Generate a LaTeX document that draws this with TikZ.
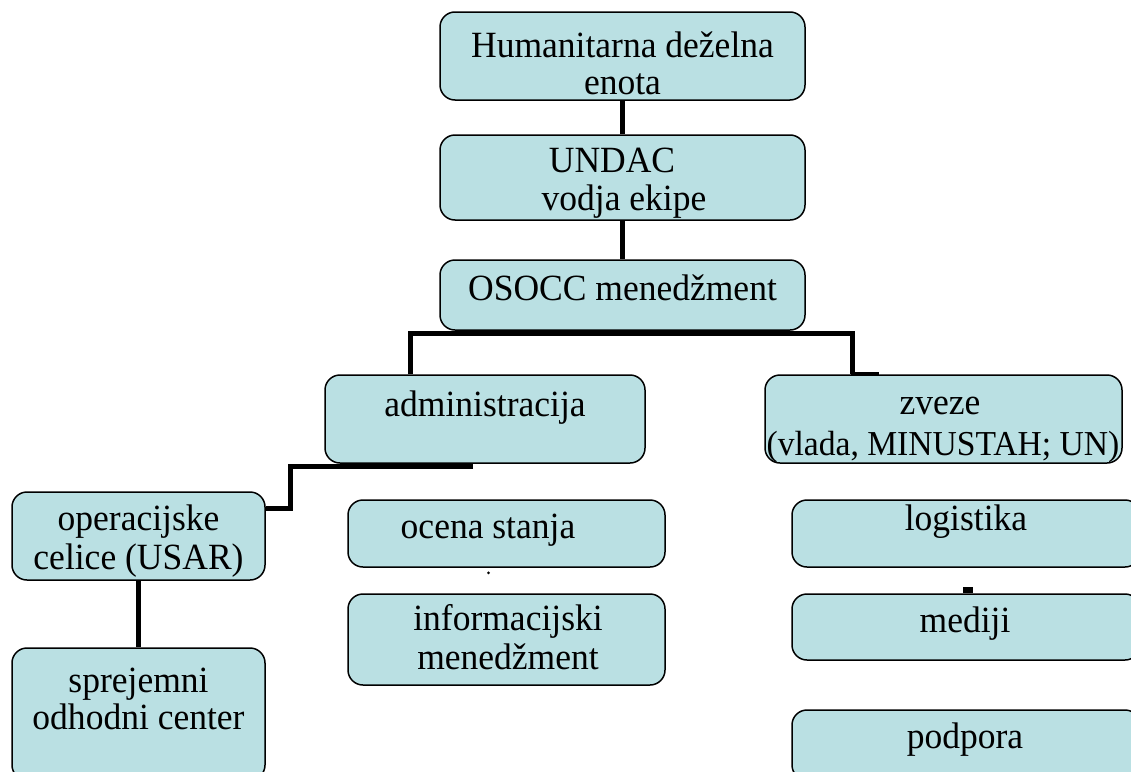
\documentclass[tikz,border=0pt]{standalone}
\usepackage{fontspec}
\setmainfont{Liberation Serif}[FakeStretch=0.96]
\definecolor{boxfill}{HTML}{BAE0E3}
\begin{document}
\begin{tikzpicture}[x=1pt,y=-1pt,
  box/.style={draw=black,fill=boxfill,line width=1.5pt,rounded corners=15pt,inner sep=0pt},
  txt/.style={anchor=base,inner sep=0pt,font=\fontsize{37}{40}\selectfont},
  conn/.style={line width=5pt,draw=black}]
\useasboundingbox (0,0) rectangle (1131,771);
% boxes
\node[box,minimum width=365pt,minimum height=88pt] (hde) at (622.5,56) {};
\node[box,minimum width=365pt,minimum height=85pt] (undac) at (622.5,177.5) {};
\node[box,minimum width=365pt,minimum height=70pt] (osocc) at (622.5,295) {};
\node[box,minimum width=320pt,minimum height=88pt] (admin) at (485,419) {};
\node[box,minimum width=357pt,minimum height=88pt] (zveze) at (943.5,419) {};
\node[box,minimum width=253pt,minimum height=88pt] (oper) at (138.5,536) {};
\node[box,minimum width=317pt,minimum height=67pt] (ocena) at (506.5,533.5) {};
\node[box,minimum width=317pt,minimum height=91pt] (info) at (506.5,639.5) {};
\node[box,minimum width=348pt,minimum height=67pt] (logist) at (966,533.5) {};
\node[box,minimum width=348pt,minimum height=66pt] (mediji) at (966,627) {};
\node[box,minimum width=253pt,minimum height=132pt] (sprej) at (138.5,714) {};
\node[box,minimum width=348pt,minimum height=70pt] (podpora) at (966,745) {};
% texts
\node[txt] (t1a) at (622.5,57) {Humanitarna deželna};
\node[txt] (t1b) at (622.5,94) {enota};
\node[txt] (t2a) at (612,172) {UNDAC};
\node[txt] (t2b) at (624,210) {vodja ekipe};
\node[txt] (t3) at (622.5,300) {OSOCC menedžment};
\node[txt] (t4) at (485,416) {administracija};
\node[txt] (t5a) at (940,414) {zveze};
\node[txt,font=\fontsize{35}{40}\selectfont] (t5b) at (943,455) {(vlada, MINUSTAH; UN)};
\node[txt] (t6a) at (138.5,530) {operacijske};
\node[txt] (t6b) at (138.5,569) {celice (USAR)};
\node[txt] (t7) at (488,538) {ocena stanja};
\node[txt] (t8a) at (508,630) {informacijski};
\node[txt] (t8b) at (508,669) {menedžment};
\node[txt] (t9) at (966,530) {logistika};
\node[txt] (t10) at (965,632) {mediji};
\node[txt] (t11a) at (138.5,692) {sprejemni};
\node[txt] (t11b) at (138.5,729) {odhodni center};
\node[txt] (t12) at (965,748) {podpora};
% connectors
\draw[conn] (hde.south) -- (undac.north);
\draw[conn] (undac.south) -- (osocc.north);
\draw[conn] ([xshift=-75pt]admin.north) |- ([yshift=-2.5pt]osocc.south) -| ([xshift=-91.5pt]zveze.north);
\draw[line width=3pt] ([xshift=-93pt,yshift=1pt]zveze.north) -- ([xshift=-65pt,yshift=1pt]zveze.north);
\draw[conn] ([xshift=-12pt,yshift=-2.5pt]admin.south) -| ([xshift=25pt,yshift=28pt]oper.east) -- ([yshift=28pt]oper.east);
\draw[conn] (oper.south) -- (sprej.north);
\fill[black] ([xshift=-3pt]mediji.north) rectangle ([xshift=7pt,yshift=6pt]mediji.north);
\fill[black] ([xshift=-18pt,yshift=-5pt]ocena.south) circle (1.5pt);
\end{tikzpicture}
\end{document}
